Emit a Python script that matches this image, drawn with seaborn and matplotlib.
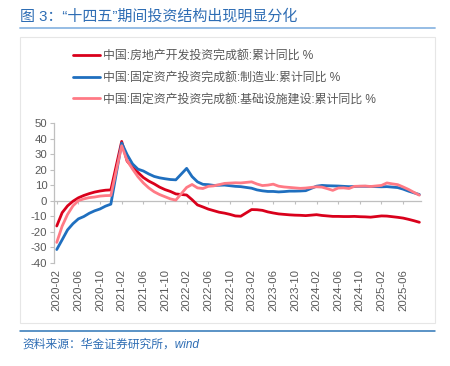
import matplotlib
matplotlib.use("Agg")
import matplotlib.pyplot as plt
from matplotlib.lines import Line2D
from matplotlib.patches import Rectangle
import seaborn as sns
import pandas as pd

# ---------------- data ----------------
title = "图 3：“十四五”期间投资结构出现明显分化"
source = "资料来源：华金证券研究所，wind"

series_names = [
    "中国:房地产开发投资完成额:累计同比 %",
    "中国:固定资产投资完成额:制造业:累计同比 %",
    "中国:固定资产投资完成额:基础设施建设:累计同比 %",
]

# months (Jan-Feb reported together, so no January point)
months = [f"{y}-{m:02d}" for y in range(2020, 2026) for m in range(2, 13)
          if not (y == 2025 and m > 9)]

real_estate = [
    -16.3, -7.7, -3.3, -0.3, 1.9, 3.4, 4.6, 5.6, 6.3, 6.8, 7.0,
    38.3, 25.6, 21.6, 18.3, 15.0, 12.7, 10.9, 8.8, 7.2, 6.0, 4.4,
    3.7, 0.7, -2.7, -4.0, -5.4, -6.4, -7.4, -8.0, -8.8, -9.8, -10.0,
    -5.7, -5.8, -6.2, -7.2, -7.9, -8.5, -8.8, -9.1, -9.3, -9.4, -9.6,
    -9.0, -9.5, -9.8, -10.1, -10.1, -10.2, -10.2, -10.1, -10.3, -10.4, -10.6,
    -9.8, -9.9, -10.3, -10.7, -11.2, -12.0, -12.9, -13.9,
]
manufacturing = [
    -31.5, -25.2, -18.8, -14.8, -11.7, -10.2, -8.1, -6.5, -5.3, -3.5, -2.2,
    37.3, 29.8, 23.8, 20.4, 19.2, 17.3, 15.7, 14.8, 14.2, 13.7, 13.5,
    20.9, 15.6, 12.2, 10.6, 10.4, 9.9, 10.0, 10.1, 9.7, 9.3, 9.1,
    8.1, 7.0, 6.4, 6.0, 6.0, 5.7, 5.9, 6.2, 6.2, 6.3, 6.5,
    9.4, 9.9, 9.7, 9.6, 9.5, 9.3, 9.1, 9.2, 9.3, 9.3, 9.2,
    9.0, 9.1, 8.8, 8.5, 7.5, 6.2, 5.1, 4.0,
]
infrastructure = [
    -26.9, -16.4, -8.8, -3.3, 0.1, 1.2, 2.0, 2.4, 3.0, 3.3, 3.4,
    35.5, 26.0, 20.5, 15.5, 11.5, 8.3, 5.8, 4.0, 2.6, 1.2, 0.4,
    8.6, 10.5, 8.3, 7.9, 9.3, 9.6, 10.4, 11.2, 11.4, 11.6, 11.5,
    12.2, 10.8, 9.8, 10.1, 10.7, 9.4, 8.9, 8.6, 8.3, 8.0, 8.2,
    9.0, 8.8, 7.8, 6.7, 8.2, 8.3, 7.9, 9.3, 9.4, 9.5, 9.2,
    9.9, 11.5, 10.9, 10.4, 8.9, 7.3, 5.4, 3.6,
]

tick_labels = ["2020-02", "2020-06", "2020-10", "2021-02", "2021-06", "2021-10",
               "2022-02", "2022-06", "2022-10", "2023-02", "2023-06", "2023-10",
               "2024-02", "2024-06", "2024-10", "2025-02", "2025-06"]

y_ticks = list(range(-40, 51, 10))

colors = ["#D9001B", "#1F6FBF", "#FF7A85"]

# ---------------- build table ----------------
def month_pos(s):
    y, m = s.split("-")
    return (int(y) - 2020) * 12 + int(m) - 2

rows = []
for name, vals in zip(series_names, [real_estate, manufacturing, infrastructure]):
    for mth, v in zip(months, vals):
        rows.append({"pos": month_pos(mth), "value": v, "series": name})
df = pd.DataFrame(rows)

# ---------------- style ----------------
sns.set_style("white")
plt.rcParams["font.family"] = ["Liberation Sans", "Noto Sans CJK SC", "DejaVu Sans"]

W, H = 450, 366
fig = plt.figure(figsize=(W / 100, H / 100), dpi=100)

def fx(x):
    return x / W

def fy(y):
    return 1 - y / H

ax_left, ax_right, ax_top, ax_bottom = 54.3, 421.0, 123.3, 262.7
ax = fig.add_axes([fx(ax_left), fy(ax_bottom), fx(ax_right) - fx(ax_left),
                   (ax_bottom - ax_top) / H])

sns.lineplot(data=df, x="pos", y="value", hue="series", hue_order=series_names,
             palette=colors, linewidth=2.0, ax=ax, legend=True)

for s in ["top", "right"]:
    ax.spines[s].set_visible(False)
ax.spines["left"].set_color("#BFBFBF")
ax.spines["left"].set_linewidth(0.9)
ax.spines["bottom"].set_position(("data", 0))
ax.spines["bottom"].set_color("#BFBFBF")
ax.spines["bottom"].set_linewidth(0.9)
ax.spines["bottom"].set_zorder(0.5)

ax.set_xlim(-0.45, 67.3)
ax.set_ylim(-40, 50)
ax.set_yticks(y_ticks)
ax.set_yticklabels([str(t) for t in y_ticks])
ax.set_xticks([month_pos(t) for t in tick_labels])
ax.set_xticklabels(tick_labels)
ax.set_xlabel("")
ax.set_ylabel("")

ax.tick_params(axis="y", direction="out", length=3, width=0.8, color="#BFBFBF",
               labelsize=8.2, labelcolor="#595959", pad=2, left=True)
ax.tick_params(axis="x", direction="out", length=2.5, width=0.8, color="#BFBFBF",
               labelsize=8.2, labelcolor="#595959", pad=47, bottom=True,
               labelrotation=90)
for lbl in ax.get_xticklabels():
    lbl.set_ha("center")
    lbl.set_va("top")

# legend
handles, labels = ax.get_legend_handles_labels()
leg = ax.legend(handles, labels, loc="upper left",
                bbox_to_anchor=(fx(73), fy(50)), bbox_transform=fig.transFigure,
                frameon=False, fontsize=8.6, labelcolor="#595959",
                handlelength=2.3, handletextpad=0.25, labelspacing=0.82,
                borderpad=0, borderaxespad=0)
for line in leg.get_lines():
    line.set_linewidth(2.0)

# frame, title, rules, source
fig.add_artist(Rectangle((fx(20), fy(323)), fx(435) - fx(20), fy(37) - fy(323),
                         transform=fig.transFigure, fill=False,
                         edgecolor="#E6E6E6", linewidth=0.8))
fig.text(fx(20), fy(16.5), title, color="#2E6DB4", fontsize=10.8,
         ha="left", va="center")
fig.add_artist(Line2D([fx(20), fx(435)], [fy(28.3), fy(28.3)],
                      transform=fig.transFigure, color="#8DB8E3", linewidth=1.3))
fig.add_artist(Line2D([fx(20), fx(435)], [fy(331), fy(331)],
                      transform=fig.transFigure, color="#2E75B6", linewidth=1.1))
fig.text(fx(22), fy(345), source, color="#2E6DB4", fontsize=8.5, style="italic",
         ha="left", va="center")

fig.savefig("out.png", dpi=100, facecolor="white")
